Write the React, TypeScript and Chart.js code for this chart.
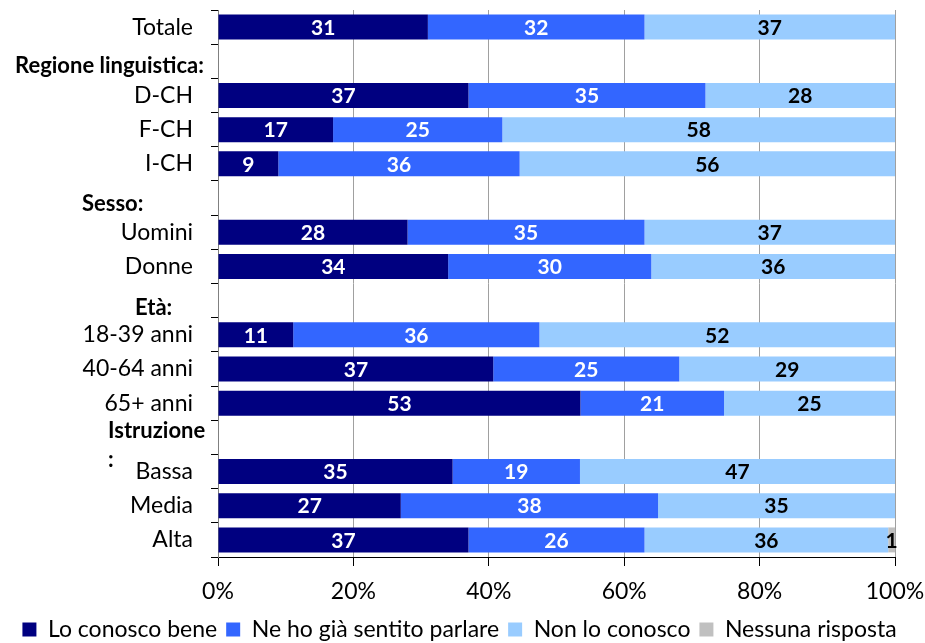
import React, { useEffect, useRef } from "react";
import { Chart, registerables } from "chart.js";

Chart.register(...registerables);

const categories = [
  "Totale",
  "Regione linguistica:",
  "D-CH",
  "F-CH",
  "I-CH",
  "Sesso:",
  "Uomini",
  "Donne",
  "Età:",
  "18-39 anni",
  "40-64 anni",
  "65+ anni",
  "Istruzione:",
  "Bassa",
  "Media",
  "Alta",
];

const conoscoBene = [31, null, 37, 17, 9, null, 28, 34, null, 11, 37, 53, null, 35, 27, 37];
const giaSentito = [32, null, 35, 25, 36, null, 35, 30, null, 36, 25, 21, null, 19, 38, 26];
const nonConosco = [37, null, 28, 58, 56, null, 37, 36, null, 52, 29, 25, null, 47, 35, 36];
const nessunaRisposta = [0, null, 0, 0, 0, null, 0, 0, null, 0, 0, 0, null, 0, 0, 1];

const seriesNames = ["Lo conosco bene", "Ne ho già sentito parlare", "Non lo conosco", "Nessuna risposta"];
const seriesColors = ["#000080", "#3366FF", "#99CCFF", "#C0C0C0"];
const valueLabelColors = ["#FFFFFF", "#FFFFFF", "#000000", "#000000"];
const xTickValues = [0, 20, 40, 60, 80, 100];

const FONT = "Lato, 'Open Sans', sans-serif";

const isHeader = (i: number) => categories[i].endsWith(":");

export default function App() {
  const canvasRef = useRef<HTMLCanvasElement | null>(null);

  useEffect(() => {
    if (!canvasRef.current) return;
    const series = [conoscoBene, giaSentito, nonConosco, nessunaRisposta];
    const rowSums = categories.map((_, i) =>
      series.reduce((s, arr) => s + (arr[i] ?? 0), 0)
    );
    const datasets = series.map((arr, k) => ({
      label: seriesNames[k],
      data: arr.map((v, i) => (v === null || rowSums[i] === 0 ? null : (v / rowSums[i]) * 100)),
      backgroundColor: seriesColors[k],
      borderWidth: 0,
      barPercentage: 0.73,
      categoryPercentage: 1,
    }));

    const headerLayout: Record<string, { lines: string[]; x: number; dy: number[] }> = {
      "Regione linguistica:": { lines: ["Regione linguistica:"], x: 15, dy: [5] },
      "Sesso:": { lines: ["Sesso:"], x: 82, dy: [6] },
      "Età:": { lines: ["Età:"], x: 135, dy: [7] },
      "Istruzione:": { lines: ["Istruzione", ":"], x: 108, dy: [-6, 23] },
    };

    const valueLabels = {
      id: "valueLabels",
      afterDatasetsDraw(chart: any) {
        const ctx = chart.ctx;
        ctx.save();
        ctx.font = `bold 21px ${FONT}`;
        ctx.textAlign = "center";
        ctx.textBaseline = "middle";
        chart.data.datasets.forEach((ds: any, k: number) => {
          const meta = chart.getDatasetMeta(k);
          meta.data.forEach((el: any, i: number) => {
            const raw = series[k][i];
            if (raw === null || raw === 0) return;
            ctx.fillStyle = valueLabelColors[k];
            ctx.fillText(String(raw), (el.x + el.base) / 2, el.y + 1);
          });
        });
        ctx.restore();
      },
    };

    const headerLabels = {
      id: "headerLabels",
      afterDraw(chart: any) {
        const ctx = chart.ctx;
        const y = chart.scales.y;
        ctx.save();
        ctx.font = `bold 22px ${FONT}`;
        ctx.fillStyle = "#000";
        ctx.textAlign = "left";
        ctx.textBaseline = "middle";
        categories.forEach((c, i) => {
          if (!isHeader(i)) return;
          const h = headerLayout[c];
          const cy = y.getPixelForValue(i);
          h.lines.forEach((line, j) => ctx.fillText(line, h.x, cy + h.dy[j]));
        });
        ctx.restore();
      },
    };

    const chart = new Chart(canvasRef.current, {
      type: "bar",
      data: { labels: categories, datasets: datasets as any },
      plugins: [valueLabels, headerLabels],
      options: {
        indexAxis: "y",
        animation: false,
        responsive: true,
        maintainAspectRatio: false,
        layout: { padding: { top: 10, right: 18, left: 12, bottom: 0 } },
        plugins: {
          tooltip: { enabled: false },
          legend: {
            position: "bottom",
            labels: {
              boxWidth: 14,
              boxHeight: 14,
              padding: 9,
              color: "#000",
              font: { family: FONT, size: 23 },
            },
          },
        },
        scales: {
          x: {
            type: "linear",
            stacked: true,
            min: 0,
            max: 100,
            afterBuildTicks: (s: any) => {
              s.ticks = xTickValues.map((v) => ({ value: v }));
            },
            ticks: {
              callback: (v: any) => `${v}%`,
              color: "#000",
              font: { family: FONT, size: 23 },
              padding: 12,
              maxRotation: 0,
            },
            grid: { color: "#A0A0A0", tickColor: "#000", tickLength: 9, lineWidth: 1 },
            border: { color: "#000", width: 1 },
            afterFit: (s: any) => {
              s.height = 52;
              s.paddingLeft = 0;
              s.paddingRight = 30;
            },
          },
          y: {
            type: "category",
            stacked: true,
            ticks: {
              autoSkip: false,
              color: "#000",
              font: { family: FONT, size: 23 },
              padding: 18,
              callback: (_v: any, i: number) => (isHeader(i) ? "" : categories[i]),
            },
            grid: { offset: true, drawOnChartArea: false, tickLength: 7, color: "#000" },
            border: { color: "#808080", width: 1 },
            afterFit: (s: any) => {
              s.width = 206;
              s.paddingTop = 0;
              s.paddingBottom = 0;
            },
          },
        },
      } as any,
    });
    return () => chart.destroy();
  }, []);

  return (
    <div style={{ position: "fixed", left: 0, top: 0, width: 925, height: 651, background: "#fff" }}>
      <canvas ref={canvasRef} style={{ display: "block" }} />
    </div>
  );
}
